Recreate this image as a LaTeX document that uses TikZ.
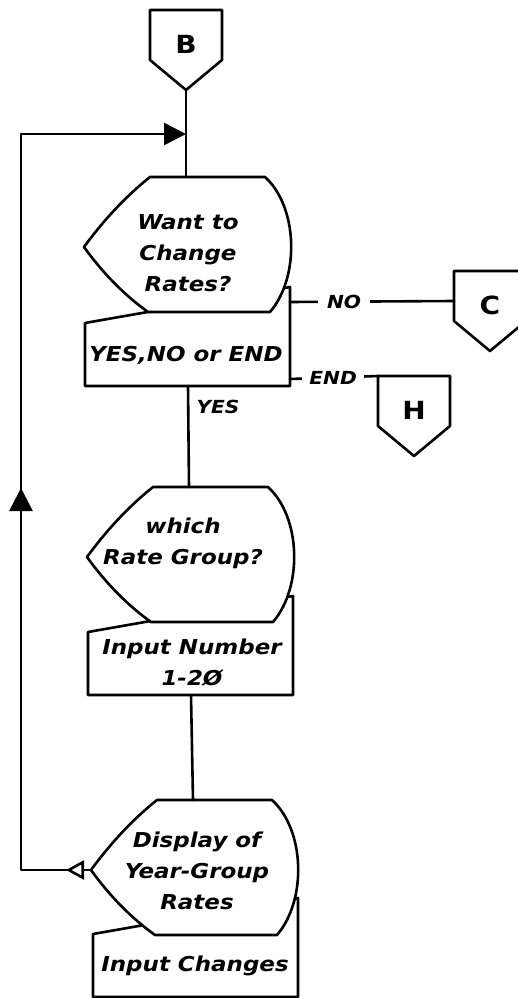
\documentclass[tikz,border=0pt]{standalone}
\usepackage{fontspec}
\setmainfont{DejaVu Sans}
\newfontfamily\handfont[FakeStretch=1.12]{DejaVu Sans}
\usetikzlibrary{positioning,
                calc,
                arrows.meta,
                decorations.markings}

\begin{document}
\begin{tikzpicture}[x=1pt,y=-1pt]

\tikzset{
flowline/.style={
line width=2.6pt,
line cap=round,
line join=round
},
shapeline/.style={
line width=2.6pt,
line join=round,
fill=white
},
handtext/.style={
align=center,
font=\handfont\bfseries\itshape\fontsize{20.5}{31}\selectfont
},
flowlabel/.style={
inner sep=0pt,
font=\handfont\bfseries\itshape\fontsize{18}{20}\selectfont
},
conlabel/.style={
font=\handfont\bfseries\fontsize{25}{27}\selectfont
},
loopline/.style={
flowline,
postaction={decorate,decoration={markings,
mark=at position 25pt with {\arrow{Triangle[length=18pt,width=19pt,fill=white]}},
mark=at position 452pt with {\arrow{Triangle[length=23pt,width=23pt]}}}}
},
offpage/.pic={
\draw[shapeline] (-36,0) -- (36,0) -- (36,50) -- (0,80) -- (-36,50) -- cycle;
\coordinate (-top) at (0,0);
\coordinate (-tip) at (0,80);
\coordinate (-nw) at (-36,0);
\coordinate (-west) at (-36,30);
\coordinate (-mid) at (0,34);
},
display/.pic={
\draw[shapeline] (0,0) -- (115,0)
  .. controls (148,30) and (150,100) .. (120,135) -- (-2,135)
  .. controls (-27,117) and (-48,95) .. (-66,70)
  .. controls (-47,44) and (-25,20) .. (0,0) -- cycle;
\coordinate (-top) at (36,0);
\coordinate (-left) at (-66,70);
},
inputbox/.pic={
\draw[shapeline] (0,0) -- (0,63) -- (205,63) -- (205,-36) -- cycle;
\coordinate (-bottom) at (103,63);
}
}

\useasboundingbox (0,0) rectangle (518,998);
\clip (0,0) rectangle (518,998);

%--------------------------------------------------
% ENTRY
%--------------------------------------------------

\pic (B) at (186,10) {offpage};
\node[conlabel] (Blabel) at (B-mid) {B};

%--------------------------------------------------
% CHANGE RATES QUESTION
%--------------------------------------------------

\pic (ask) at (85,323) {inputbox};
\pic (want) at (150,177) {display};
\node[handtext] (wanttxt) at (188,253) {Want to\\Change\\Rates?};
\node[handtext] (asktxt) at (186,355) {YES,NO or END};

\pic (C) at (490,271) {offpage};
\node[conlabel] (Clabel) at (C-mid) {C};

\pic (H) at (414,376) {offpage};
\node[conlabel] (Hlabel) at (H-mid) {H};

\coordinate (noexit) at (290,302);
\coordinate (endexit) at (290,379);

%--------------------------------------------------
% RATE GROUP
%--------------------------------------------------

\pic (num) at (88,632) {inputbox};
\pic (which) at (153,487) {display};
\node[handtext] (whichtxt) at (183,543) {which\\Rate Group?};
\node[handtext] (numtxt) at (192,663) {Input Number\\1-2Ø};

%--------------------------------------------------
% YEAR-GROUP RATES
%--------------------------------------------------

\pic (chg) at (93,934) {inputbox};
\pic (disp) at (157,800) {display};
\node[handtext] (disptxt) at (197,871) {Display of\\Year-Group\\Rates};
\node[handtext] (chgtxt) at (195,966) {Input Changes};

%--------------------------------------------------
% CONNECTORS
%--------------------------------------------------

\coordinate (loopBL) at (21,870);
\coordinate (loopTL) at (21,134);
\coordinate (loopIn) at (186,134);

\draw[flowline] (B-tip) -- (want-top);
\draw[flowline] (noexit) -- node[flowlabel,fill=white,inner xsep=9pt,inner ysep=2pt,pos=0.33] (nolabel) {NO} (C-west);
\draw[flowline] (endexit) -- node[flowlabel,fill=white,inner xsep=7pt,inner ysep=2pt,pos=0.49] (endlabel) {END} (H-nw);
\draw[flowline] (ask-bottom) -- node[flowlabel,anchor=west,pos=0.21,xshift=7pt] (yeslabel) {YES} (which-top);
\draw[flowline] (num-bottom) -- (disp-top);
\draw[loopline,-{Triangle[length=22pt,width=22pt]}] (disp-left) -- (loopBL) -- (loopTL) -- (loopIn);

\end{tikzpicture}
\end{document}
